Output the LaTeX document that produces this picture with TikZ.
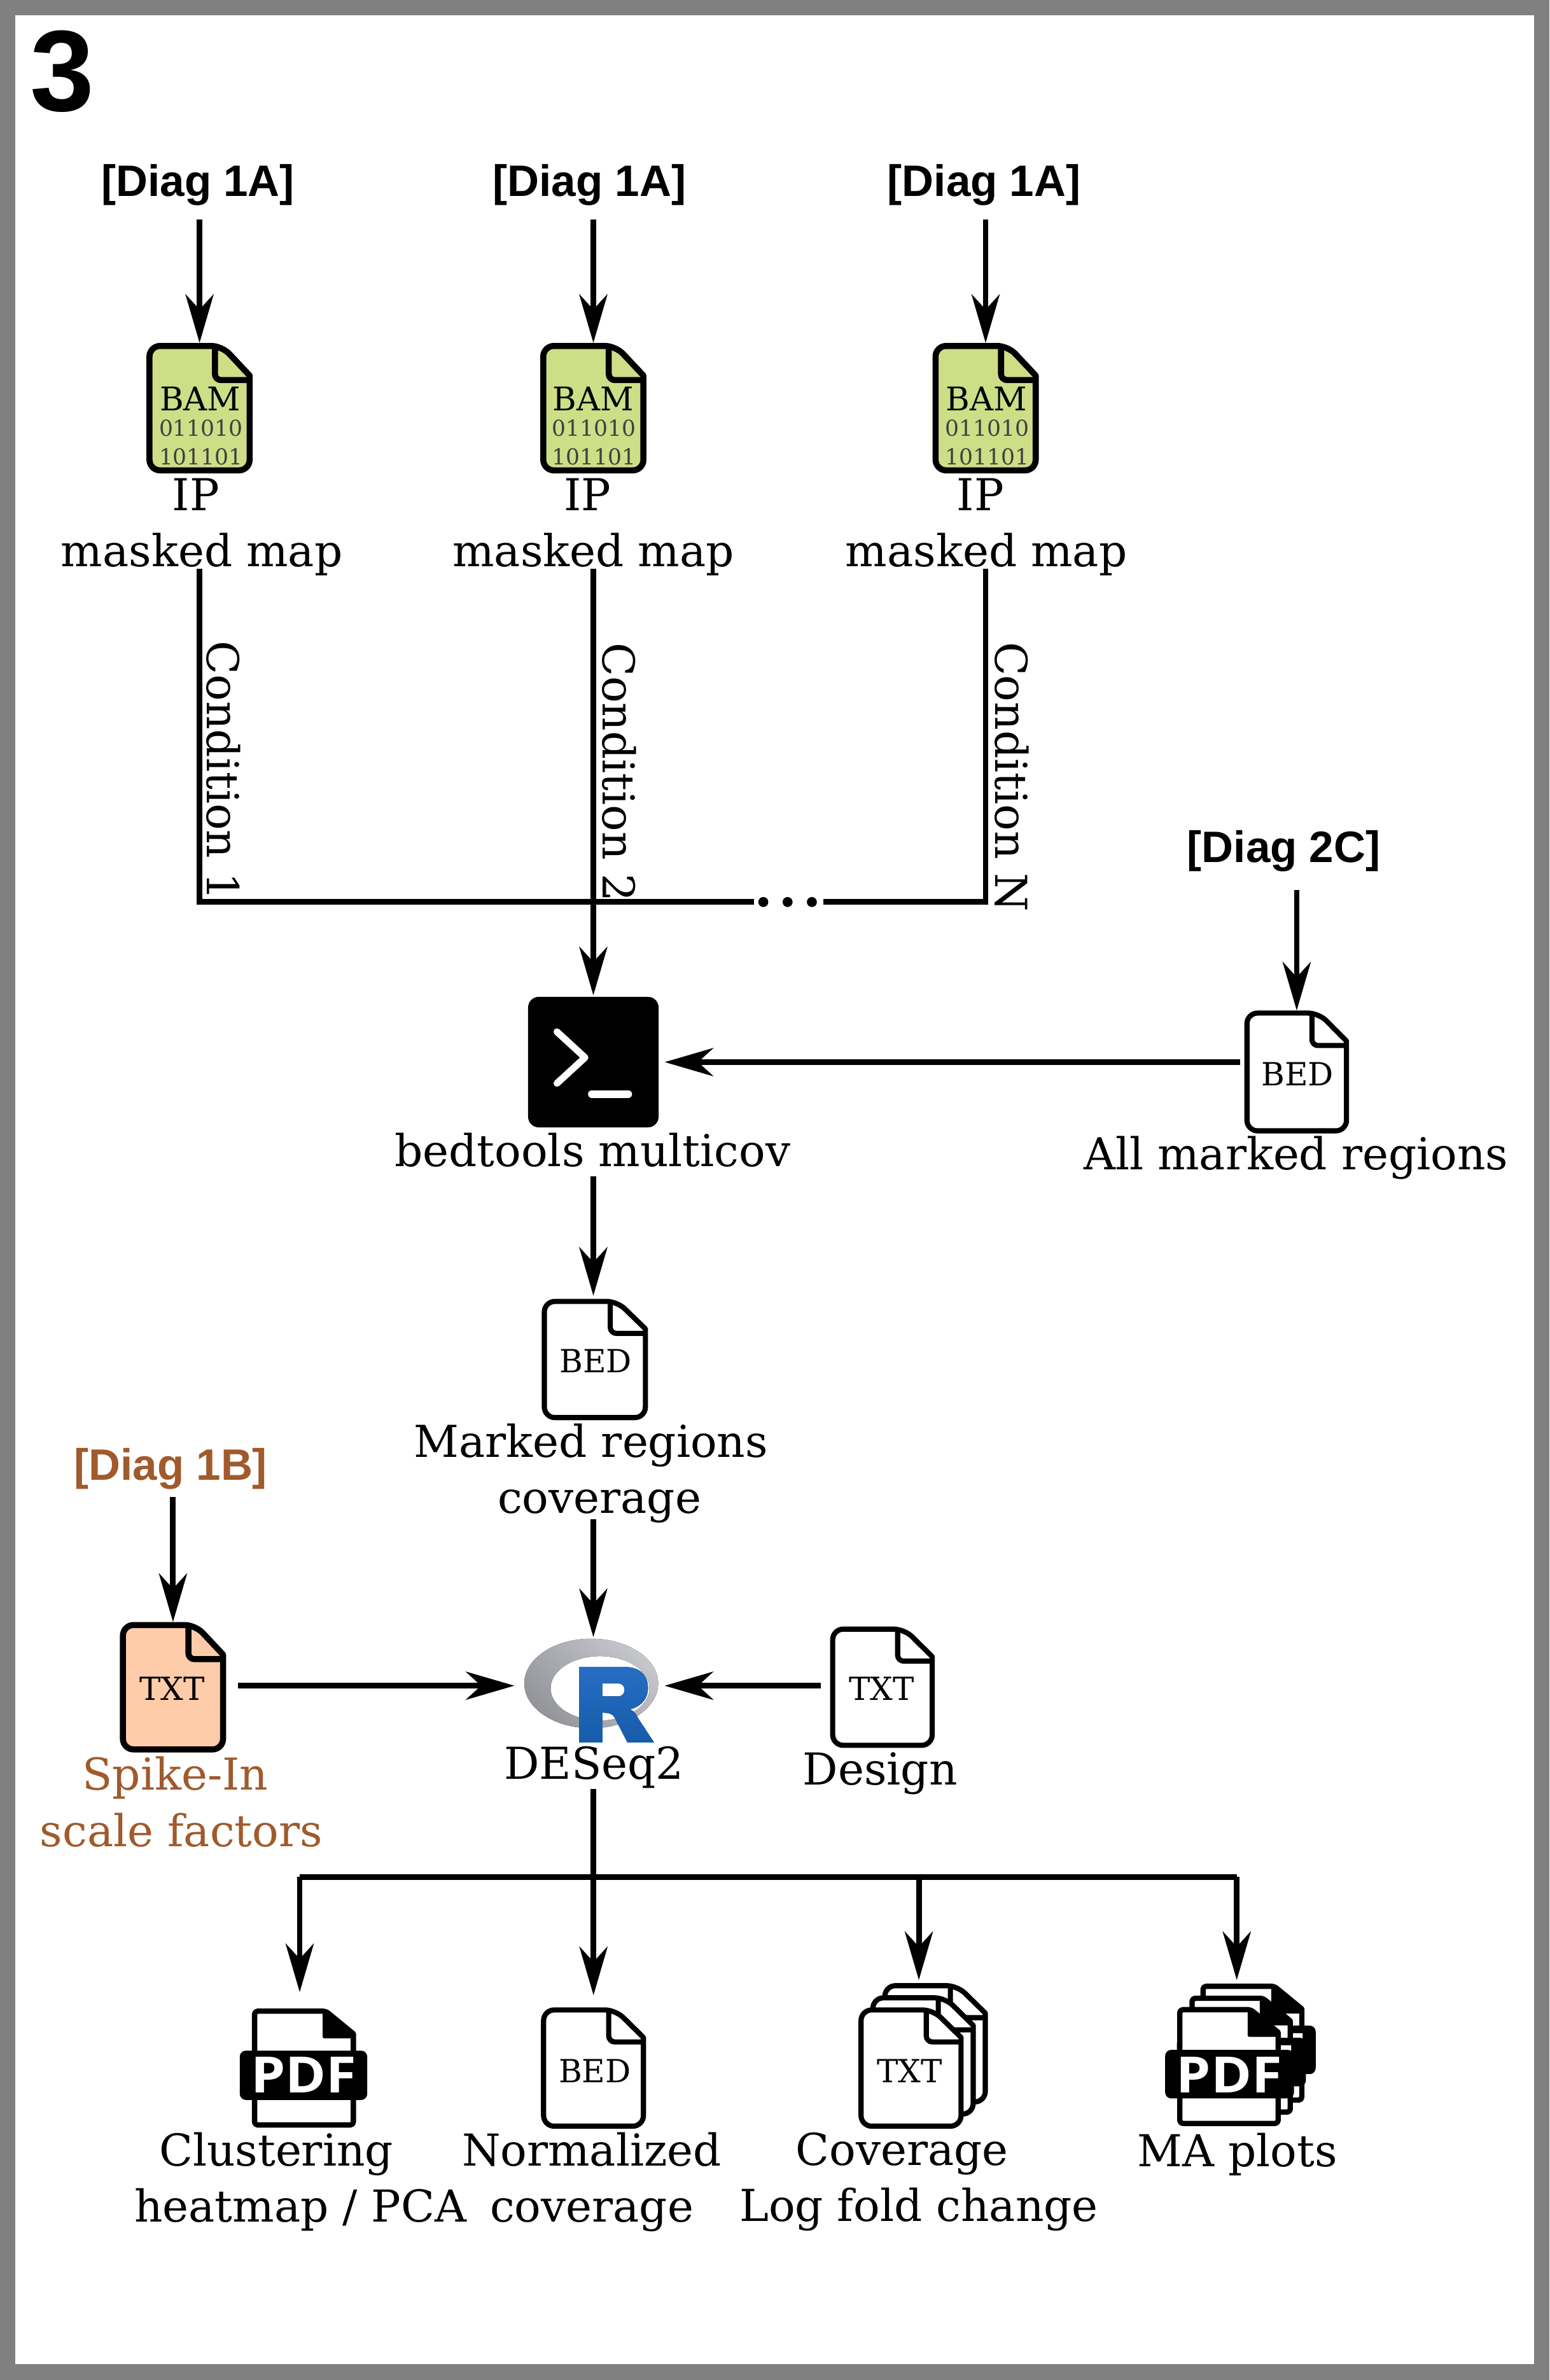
\documentclass[tikz,border=0pt]{standalone}
\usepackage{fontspec}
\usetikzlibrary{arrows.meta,calc,shapes.geometric}
\setmainfont{DejaVu Serif}
\newfontfamily\hdfont{Liberation Sans}
\newfontfamily\pdffont{Open Sans}
\definecolor{bamgreen}{HTML}{CDDE87}
\definecolor{spikefill}{HTML}{FFCCAA}
\definecolor{spikebrown}{HTML}{A05A2C}
\definecolor{framegray}{HTML}{808080}
\definecolor{ringlight}{HTML}{C6C7CB}
\definecolor{ringdark}{HTML}{94959B}
\definecolor{rblue1}{HTML}{276DC3}
\definecolor{rblue2}{HTML}{165CAA}
\tikzset{
  arr/.style={line width=3.7pt,-{Stealth[length=32pt,width=18.5pt,inset=10pt]}},
  wire/.style={line width=3.7pt},
  lbl/.style={font=\fontsize{29}{37}\selectfont,inner sep=0pt,align=center},
  diag/.style={font=\hdfont\bfseries\fontsize{29}{34}\selectfont,inner sep=0pt},
  ftype/.style={font=\fontsize{21}{24}\selectfont,inner sep=0pt},
  bits/.style={font=\fontsize{14.5}{18}\selectfont,inner sep=0pt,text=black!75},
  iconbox/.style={rectangle,inner sep=0pt,outer sep=0pt},
}
% name, left, top, right, bottom, fill, stroke width
\newcommand\fileicon[7]{%
  \pgfmathsetmacro\fL{#2+#7/2}\pgfmathsetmacro\fR{#4-#7/2}%
  \pgfmathsetmacro\fT{#3+#7/2}\pgfmathsetmacro\fB{#5-#7/2}%
  \pgfmathsetmacro\fX{#2+0.645*(#4-#2)}\pgfmathsetmacro\fD{#2+0.71*(#4-#2)}%
  \pgfmathsetmacro\fY{#3+0.285*(#5-#3)}\pgfmathsetmacro\fM{#3+0.5*(#5-#3)}%
  \pgfmathsetmacro\fCx{(#2+#4)/2}\pgfmathsetmacro\fW{#4-#2}\pgfmathsetmacro\fH{#5-#3}%
  \node[iconbox,minimum width=\fW pt,minimum height=\fH pt] (#1) at (\fCx,\fM) {};%
  \draw[fill=#6,line width=#7pt,line join=round,rounded corners=7pt]
    (\fL,\fM) -- (\fL,\fT) -- (\fD,\fT) [sharp corners] -- (\fR,\fY-3) [rounded corners=7pt] -- (\fR,\fB) -- (\fL,\fB) -- cycle;%
  \draw[line width=#7pt,rounded corners=4pt] (\fX,\fT) -- (\fX,\fY) -- (\fR,\fY);%
}
% name, left, top, right, bottom, banner left, banner top, banner right, banner bottom
\newcommand\pdficon[9]{%
  \pgfmathsetmacro\fL{#2+1.75}\pgfmathsetmacro\fR{#4-1.75}%
  \pgfmathsetmacro\fT{#3+2.5}\pgfmathsetmacro\fB{#5-2.5}%
  \pgfmathsetmacro\fX{#2+0.68*(#4-#2)}\pgfmathsetmacro\fD{#2+0.71*(#4-#2)}%
  \pgfmathsetmacro\fY{#3+0.255*(#5-#3)}\pgfmathsetmacro\fM{#3+0.5*(#5-#3)}%
  \pgfmathsetmacro\fCx{(#2+#4)/2}\pgfmathsetmacro\fW{#4-#2}\pgfmathsetmacro\fH{#5-#3}%
  \node[iconbox,minimum width=\fW pt,minimum height=\fH pt] (#1) at (\fCx,\fM) {};%
  \draw[fill=white,line width=3.5pt,line join=round,rounded corners=2pt]
    (\fL,\fM) -- (\fL,\fT) -- (\fD,\fT) [sharp corners] -- (\fR,\fY-3) [rounded corners=2pt] -- (\fR,\fB) -- (\fL,\fB) -- cycle;%
  \fill[line join=round,rounded corners=1pt] (\fX,\fT) -- (\fD,\fT) -- (\fR,\fY-3) -- (\fR,\fY) -- (\fX,\fY) -- cycle;%
  \fill[rounded corners=4pt] (#6,#7) rectangle (#8,#9);%
}
\newcommand\pdfword[3]{\node[text=white,inner sep=0pt,xscale=1.1,font=\pdffont\bfseries\fontsize{33}{36}\selectfont] (#1) at (#2,#3) {PDF};}
\begin{document}
\begin{tikzpicture}[x=1pt,y=-1pt]
\useasboundingbox (0,0) rectangle (1021,1568.6);
\fill[framegray] (0,0) rectangle (1021,1568.6);
\fill[white] (10,10) rectangle (1011,1558);
\node[font=\hdfont\bfseries\fontsize{76}{80}\selectfont,inner sep=0pt] (panel) at (41,47) {3};

% Inputs
\node[diag] (d1) at (130.5,122) {[Diag 1A]};
\node[diag] (d2) at (388.5,122) {[Diag 1A]};
\node[diag] (d3) at (648.5,122) {[Diag 1A]};

\fileicon{bam1}{96.5}{226}{166.5}{312}{bamgreen}{4}
\fileicon{bam2}{356}{226}{426}{312}{bamgreen}{4}
\fileicon{bam3}{614.5}{226}{684.5}{312}{bamgreen}{4}
\foreach \n/\c in {a/132,b/391,c/650}{
  \node[ftype,font=\fontsize{21.5}{24}\selectfont] (bl\n) at (\c,263) {BAM};
  \node[bits] (bx\n) at (\c.5,282) {011010};
  \node[bits] (by\n) at (\c.5,301) {101101};
}
\node[lbl] (mm1) at (133,347.5) {IP\hspace*{8pt}\\masked map};
\node[lbl] (mm2) at (391,347.5) {IP\hspace*{8pt}\\masked map};
\node[lbl] (mm3) at (650,347.5) {IP\hspace*{8pt}\\masked map};

\draw[arr,shorten <=9pt] (d1.south -| bam1.north) -- (bam1.north);
\draw[arr,shorten <=9pt] (d2.south -| bam2.north) -- (bam2.north);
\draw[arr,shorten <=9pt] (d3.south -| bam3.north) -- (bam3.north);

\node[lbl,rotate=-90] (c1) at (147.5,508) {Condition 1};
\node[lbl,rotate=-90] (c2) at (408,509) {Condition 2};
\node[lbl,rotate=-90] (c3) at (667,512) {Condition N};

% Bash tool
\node[iconbox,fill=black,rounded corners=7pt,minimum width=86pt,minimum height=86pt] (bash) at (391,700) {};
\draw[white,line width=4.5pt,line cap=round,line join=round] (367,680) -- (385.5,697) -- (367,714);
\draw[white,line width=5pt,line cap=round] (390,721) -- (414,721);
\node[lbl] (bt) at (390.5,758) {bedtools multicov};

\coordinate (cbus) at (131,594.5);
\coordinate (dotsL) at (497,594.5);
\coordinate (dotsR) at (542.5,594.5);
\draw[wire] (mm1.south -| bam1.north) ++(0,5pt) -- (bam1.north |- cbus) -- (dotsL);
\draw[wire] (mm3.south -| bam3.north) ++(0,5pt) -- (bam3.north |- cbus) -- (dotsR);
\draw[arr,shorten >=1pt] (mm2.south -| bash.north) ++(0,5pt) -- (bash.north);
\foreach \dx in {503,519,535}{\fill (\dx,594.5) circle (3.3pt);}

% All marked regions
\node[diag] (d4) at (846,561) {[Diag 2C]};
\fileicon{bedall}{820}{666}{889}{747}{white}{3.4}
\node[ftype] (bedalll) at (855,708) {BED};
\node[lbl] (allr) at (854,763) {All marked regions};
\draw[arr,shorten <=12pt] (d4.south -| bedall.north) -- (bedall.north);
\draw[arr,shorten <=3pt,shorten >=4pt] (bedall.west |- bash.east) -- (bash.east);

% Coverage
\fileicon{bedcov}{357}{856}{427}{936}{white}{3.4}
\node[ftype] (bedcovl) at (392.5,897) {BED};
\node[lbl] (mrc) at (395,971) {Marked regions\hspace*{11pt}\\coverage};
\draw[arr,shorten <=6pt,shorten >=2pt] (bt.south -| bash.south) -- (bash.south |- bedcov.north);

% DESeq2
\node[iconbox,minimum width=89pt,minimum height=68pt] (rlogo) at (390,1114) {};
\fill[even odd rule,left color=ringlight,right color=ringdark,shading angle=-45]
  (389.6,1109.5) ellipse [x radius=44.1pt,y radius=29.5pt]
  (395.4,1112.7) ellipse [x radius=32.6pt,y radius=21.2pt];
\fill[even odd rule,top color=rblue1,bottom color=rblue2]
  (381.6,1098.6) -- (411,1098.6) .. controls (422,1098.6) and (427,1104) .. (427,1112.5)
  .. controls (427,1120) and (422,1125) .. (415.2,1126.5)
  .. controls (418,1128) and (419.5,1130) .. (420.2,1132) -- (431,1148.4) -- (413.5,1148.4)
  -- (405,1132) .. controls (404,1130) and (402,1128.8) .. (397,1128.8) -- (397,1148.4) -- (381.6,1148.4) -- cycle
  (397,1109.5) -- (407,1109.5) .. controls (410,1109.5) and (411.5,1111) .. (411.5,1113.7)
  .. controls (411.5,1116.5) and (410,1118) .. (407,1118) -- (397,1118) -- cycle;
\node[lbl] (de) at (391.5,1165) {DESeq2};
\draw[arr,shorten <=-2.5pt] (mrc.south -| bash.south) -- (bash.south |- 0,1079);

% Spike-in
\node[diag,text=spikebrown] (d5) at (112.5,968) {[Diag 1B]};
\fileicon{spike}{79}{1069}{149}{1155}{spikefill}{4}
\node[ftype] (spikel) at (113.5,1113) {TXT};
\node[lbl,text=spikebrown] (spk) at (119.5,1187.5) {Spike-In\hspace*{8pt}\\scale factors};
\draw[arr,shorten <=5pt] (d5.south -| spike.north) -- (spike.north);
\coordinate (rmid) at (390,1111);
\draw[arr,shorten <=8pt,shorten >=51pt] (spike.east |- rmid) -- (rmid);

% Design
\fileicon{design}{547}{1072}{616}{1152}{white}{3.4}
\node[ftype] (designl) at (581,1113) {TXT};
\node[lbl] (dsg) at (580,1169) {Design};
\draw[arr,shorten <=6pt,shorten >=48pt] (design.west |- rmid) -- (rmid);

% Outputs
\coordinate (busL) at (197.5,1237);
\coordinate (busR) at (815,1237);
\coordinate (busC) at (605.5,1237);
\draw[wire] (busL) -- (busR);

\pdficon{clust}{166}{1323}{234.6}{1403}{158}{1351.5}{242}{1384}
\pdfword{clustw}{200}{1367.5}
\node[lbl] (clt) at (198,1438) {Clustering\hspace*{32pt}\\heatmap / PCA};
\draw[arr] (busL) -- (197.5,1313);

\fileicon{norm}{356.5}{1323}{425.7}{1403}{white}{3.4}
\node[ftype] (norml) at (392,1365) {BED};
\node[lbl] (nct) at (390,1438) {Normalized\\coverage};
\draw[arr,shorten <=0pt,shorten >=8pt] (de.south -| norm.north) -- (norm.north);

\fileicon{txt3}{581.4}{1307}{651}{1387}{white}{3.4}
\fileicon{txt2}{573.5}{1315}{643}{1395}{white}{3.4}
\fileicon{txt1}{565.7}{1323}{635}{1403}{white}{3.4}
\node[ftype] (txtl) at (599.5,1365) {TXT};
\node[lbl] (cvt) at (605.5,1438) {Coverage\hspace*{22pt}\\Log fold change};
\draw[arr] (busC) -- (605.5,1305);

\pdficon{ma3}{791}{1306.6}{859.6}{1386.6}{783}{1335}{867}{1367}
\pdfword{ma3w}{825.5}{1352}
\pdficon{ma2}{783.8}{1314.5}{852}{1394.5}{775.5}{1343}{860.6}{1375}
\pdfword{ma2w}{818}{1360}
\pdficon{ma1}{775.7}{1322}{844}{1402}{767.8}{1351}{852.7}{1383}
\pdfword{ma1w}{810}{1367.5}
\node[lbl] (mat) at (815.5,1420) {MA plots};
\draw[arr] (busR) -- (815,1305);
\end{tikzpicture}
\end{document}
